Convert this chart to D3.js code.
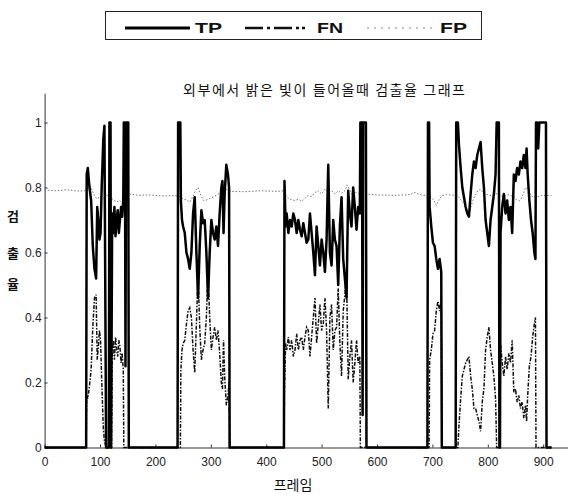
<!DOCTYPE html>
<html>
<head>
<meta charset="utf-8">
<script src="https://cdn.jsdelivr.net/npm/d3@7"></script>
<style>
  html, body { margin: 0; padding: 0; background: #fff; }
  svg { display: block; }
</style>
</head>
<body>
<svg id="chart" width="568" height="494"></svg>
<script>
/* Detection rate per frame under strong outside light: TP / FN / FP. */

var TITLE = '외부에서 밝은 빛이 들어올때 검출율 그래프';
var X_LABEL = '프레임';
var Y_LABEL = ['검', '출', '율'];

var xTicks = [0, 100, 200, 300, 400, 500, 600, 700, 800, 900];
var yTicks = [0, 0.2, 0.4, 0.6, 0.8, 1];
var yTickLabels = ['0', '0.2', '0.4', '0.6', '0.8', '1'];

// [frame, rate]
var tpPoints = [
  [0, 0], [75, 0],
  [76, 0.84], [78, 0.86], [81, 0.80], [84, 0.76], [87, 0.62], [90, 0.55], [93, 0.52],
  [95, 0.74], [97, 0.70], [99, 0.64], [101, 0.66], [103, 0.80], [106, 0.95], [108, 0.99],
  [111, 0], [116, 0], [117, 1], [119, 1], [120, 0],
  [122, 0.72], [124, 0.66], [126, 0.74], [128, 0.65], [130, 0.70], [132, 0.73], [134, 0.66],
  [136, 0.70], [138, 0.74], [140, 0.71], [142, 0.76], [143, 1], [145, 1], [146, 0.25],
  [147, 1], [151, 1], [152, 0],
  [240, 0], [241, 1], [245, 1], [246, 0.76], [248, 0.70], [250, 0.68], [253, 0.66],
  [256, 0.60], [259, 0.58], [262, 0.55], [265, 0.60], [268, 0.72], [271, 0.77], [274, 0.60],
  [277, 0.46], [280, 0.62], [283, 0.73], [286, 0.69], [289, 0.70], [292, 0.60], [295, 0.46],
  [298, 0.60], [301, 0.70], [304, 0.66], [307, 0.64], [310, 0.68], [313, 0.62], [316, 0.72],
  [319, 0.80], [321, 0.82], [323, 0.66], [325, 0.78], [328, 0.87], [331, 0.84], [333, 0.80],
  [334, 0],
  [432, 0], [433, 0.82], [435, 0.68], [437, 0.72], [440, 0.66], [443, 0.70], [446, 0.68],
  [449, 0.72], [452, 0.70], [455, 0.66], [458, 0.70], [461, 0.67], [464, 0.65], [467, 0.69],
  [470, 0.66], [473, 0.63], [476, 0.64], [479, 0.72], [482, 0.66], [485, 0.60], [488, 0.53],
  [491, 0.68], [494, 0.62], [497, 0.56], [500, 0.64], [503, 0.60], [506, 0.54], [509, 0.64],
  [512, 0.87], [515, 0.60], [518, 0.56], [521, 0.70], [524, 0.64], [527, 0.62], [530, 0.50],
  [533, 0.68], [536, 0.77], [539, 0.58], [542, 0.52], [545, 0.46], [548, 0.79], [551, 0.72],
  [554, 0.68], [557, 0.80], [560, 0.74], [563, 0.67], [566, 0.74], [569, 0.72], [570, 1],
  [573, 1], [574, 0.1], [575, 1], [580, 1], [581, 0],
  [691, 0], [692, 1], [694, 1], [695, 0.74], [698, 0.68], [701, 0.63], [704, 0.62],
  [707, 0.58], [710, 0.55], [713, 0.58], [716, 0.54], [717, 0],
  [742, 0], [743, 1], [746, 1], [748, 0.93], [751, 0.86], [754, 0.80], [757, 0.77],
  [760, 0.74], [763, 0.72], [766, 0.71], [769, 0.78], [772, 0.84], [775, 0.88], [778, 0.86],
  [781, 0.90], [784, 0.92], [787, 0.94], [790, 0.86], [793, 0.80], [796, 0.70], [799, 0.66],
  [802, 0.62], [805, 0.70], [808, 0.74], [811, 0.78], [814, 0.84], [816, 1], [820, 1],
  [821, 0], [822, 0], [823, 0.66], [826, 0.74], [829, 0.78], [832, 0.72], [835, 0.76],
  [838, 0.70], [841, 0.74], [844, 0.66], [847, 0.84], [850, 0.82], [853, 0.86], [856, 0.84],
  [859, 0.88], [862, 0.86], [865, 0.90], [868, 0.86], [870, 0.92], [872, 0.84], [875, 0.76],
  [878, 0.70], [881, 0.66], [884, 0.60], [886, 0.58], [887, 1], [889, 1], [891, 0.92],
  [893, 1], [905, 1], [906, 0], [915, 0]
];

var fnPoints = [
  [0, 0], [75, 0],
  [76, 0.16], [78, 0.15], [81, 0.19], [84, 0.24], [87, 0.37], [90, 0.46], [93, 0.47],
  [95, 0.27], [97, 0.31], [99, 0.36], [101, 0.33], [103, 0.21], [106, 0.06], [108, 0.02],
  [111, 0], [121, 0],
  [122, 0.28], [124, 0.33], [126, 0.27], [128, 0.34], [130, 0.30], [132, 0.28], [134, 0.33],
  [136, 0.31], [138, 0.26], [140, 0.29], [142, 0.24], [143, 0], [152, 0],
  [245, 0], [246, 0.24], [248, 0.30], [250, 0.32], [253, 0.33], [256, 0.38], [259, 0.42],
  [262, 0.43], [265, 0.40], [268, 0.30], [271, 0.23], [274, 0.38], [277, 0.54], [280, 0.37],
  [283, 0.27], [286, 0.30], [289, 0.32], [292, 0.40], [295, 0.54], [298, 0.40], [301, 0.30],
  [304, 0.34], [307, 0.37], [310, 0.33], [313, 0.36], [316, 0.29], [319, 0.20], [321, 0.18],
  [323, 0.33], [325, 0.22], [328, 0.13], [331, 0.16], [333, 0.20], [334, 0],
  [432, 0], [433, 0.18], [435, 0.32], [437, 0.30], [440, 0.34], [443, 0.30], [446, 0.33],
  [449, 0.28], [452, 0.30], [455, 0.35], [458, 0.30], [461, 0.33], [464, 0.34], [467, 0.30],
  [470, 0.34], [473, 0.37], [476, 0.36], [479, 0.28], [482, 0.34], [485, 0.40], [488, 0.46],
  [491, 0.32], [494, 0.38], [497, 0.44], [500, 0.36], [503, 0.38], [506, 0.46], [509, 0.36],
  [512, 0.12], [515, 0.40], [518, 0.44], [521, 0.30], [524, 0.36], [527, 0.37], [530, 0.49],
  [533, 0.32], [536, 0.22], [539, 0.42], [542, 0.47], [545, 0.53], [548, 0.21], [551, 0.28],
  [554, 0.33], [557, 0.20], [560, 0.26], [563, 0.33], [566, 0.26], [569, 0.28], [570, 0],
  [694, 0], [695, 0.27], [698, 0.30], [701, 0.35], [704, 0.36], [707, 0.42], [710, 0.45],
  [713, 0.42], [716, 0.46], [717, 0],
  [746, 0], [748, 0.07], [751, 0.15], [754, 0.22], [757, 0.24], [760, 0.26], [763, 0.27],
  [766, 0.28], [769, 0.22], [772, 0.18], [775, 0.12], [778, 0.12], [781, 0.10], [784, 0.08],
  [787, 0.05], [790, 0.14], [793, 0.18], [796, 0.30], [799, 0.34], [802, 0.37], [805, 0.30],
  [808, 0.26], [811, 0.22], [814, 0.15], [816, 0], [822, 0], [823, 0.32], [826, 0.26],
  [829, 0.22], [832, 0.28], [835, 0.24], [838, 0.29], [841, 0.26], [844, 0.33], [847, 0.17],
  [850, 0.18], [853, 0.14], [856, 0.16], [859, 0.12], [862, 0.14], [865, 0.09], [868, 0.13],
  [870, 0.08], [872, 0.16], [875, 0.25], [878, 0.28], [881, 0.34], [884, 0.38], [886, 0.40],
  [887, 0], [915, 0]
];

var fpPoints = [
  [0, 0.792], [20, 0.790], [40, 0.793], [60, 0.789], [74, 0.790], [78, 0.820], [82, 0.810],
  [86, 0.790], [90, 0.775], [94, 0.765], [100, 0.772], [106, 0.768], [112, 0.776],
  [118, 0.772], [124, 0.762], [130, 0.755], [136, 0.760], [141, 0.750], [146, 0.770],
  [152, 0.780], [170, 0.776], [190, 0.777], [210, 0.774], [230, 0.775], [240, 0.774],
  [245, 0.770], [250, 0.765], [256, 0.762], [262, 0.755], [268, 0.772], [272, 0.790],
  [277, 0.800], [282, 0.775], [287, 0.760], [293, 0.762], [300, 0.768], [306, 0.772],
  [312, 0.778], [318, 0.785], [324, 0.790], [330, 0.795], [336, 0.788], [360, 0.787],
  [390, 0.790], [420, 0.788], [432, 0.790], [436, 0.775], [441, 0.765], [446, 0.762],
  [452, 0.760], [458, 0.764], [464, 0.758], [470, 0.768], [476, 0.775], [482, 0.772],
  [488, 0.785], [494, 0.790], [500, 0.780], [506, 0.795], [512, 0.785], [518, 0.790],
  [524, 0.780], [530, 0.790], [536, 0.782], [542, 0.790], [546, 0.808], [550, 0.795],
  [556, 0.775], [562, 0.785], [568, 0.780], [574, 0.790], [580, 0.780], [600, 0.777],
  [630, 0.776], [660, 0.778], [667, 0.785], [680, 0.777], [692, 0.775], [698, 0.770],
  [703, 0.760], [707, 0.745], [712, 0.762], [717, 0.775], [725, 0.778], [740, 0.776],
  [745, 0.775], [750, 0.765], [755, 0.755], [760, 0.740], [764, 0.725], [766, 0.720],
  [769, 0.735], [773, 0.760], [777, 0.775], [782, 0.790], [787, 0.795], [793, 0.780],
  [800, 0.778], [806, 0.775], [812, 0.778], [818, 0.782], [824, 0.775], [830, 0.772],
  [836, 0.778], [842, 0.775], [848, 0.770], [852, 0.762], [856, 0.758], [860, 0.765],
  [864, 0.780], [868, 0.800], [872, 0.795], [878, 0.775], [884, 0.768], [890, 0.772],
  [897, 0.776], [905, 0.775], [915, 0.776]
];

var legendItems = ['TP', 'FN', 'FP'];

var svg = d3.select('#chart');
var FONT = '"Liberation Sans", Arial, sans-serif';
var KFONT = '"Noto Sans CJK KR", "Noto Sans", sans-serif';

var x = d3.scaleLinear().domain([0, 950]).range([44.6, 570.9]);
var y = d3.scaleLinear().domain([0, 1.09]).range([447.5, 93.25]);

/* ---- axes ---- */
var xAxis = d3.axisBottom(x)
  .tickValues(xTicks)
  .tickSizeInner(-3)
  .tickSizeOuter(0)
  .tickPadding(10)
  .tickFormat(d3.format('d'));

var yAxis = d3.axisLeft(y)
  .tickValues(yTicks)
  .tickSizeInner(-3)
  .tickSizeOuter(0)
  .tickPadding(3)
  .tickFormat(function(d, i) { return yTickLabels[i]; });

var gx = svg.append('g')
  .attr('transform', 'translate(0,' + y(0) + ')')
  .call(xAxis);
var gy = svg.append('g')
  .attr('transform', 'translate(' + x(0) + ',0)')
  .call(yAxis);

[gx, gy].forEach(function(g) {
  g.select('.domain').attr('stroke', '#333').attr('stroke-width', 1);
  g.selectAll('.tick line').attr('stroke', '#333');
  g.selectAll('.tick text')
    .attr('fill', '#222')
    .style('font-family', FONT)
    .style('font-size', '12px');
});

/* ---- series ---- */
var line = d3.line()
  .x(function(d) { return x(d[0]); })
  .y(function(d) { return y(d[1]); });

svg.append('path')
  .datum(fpPoints)
  .attr('d', line)
  .attr('fill', 'none')
  .attr('stroke', '#777')
  .attr('stroke-width', 1)
  .attr('stroke-dasharray', '1.5,1.8');

svg.append('path')
  .datum(fnPoints)
  .attr('d', line)
  .attr('fill', 'none')
  .attr('stroke', '#111')
  .attr('stroke-width', 1.5)
  .attr('stroke-dasharray', '4,1.5,1.5,1.5');

svg.append('path')
  .datum(tpPoints)
  .attr('d', line)
  .attr('fill', 'none')
  .attr('stroke', '#000')
  .attr('stroke-width', 2.5)
  .attr('stroke-linejoin', 'round');

/* ---- title and axis labels ---- */
svg.append('text')
  .attr('x', 183).attr('y', 95)
  .attr('textLength', 282).attr('lengthAdjust', 'spacing')
  .style('font-family', KFONT).style('font-size', '14px')
  .attr('fill', '#111')
  .text(TITLE);

svg.append('text')
  .attr('x', 293).attr('y', 490)
  .attr('text-anchor', 'middle')
  .style('font-family', KFONT).style('font-size', '14px')
  .attr('fill', '#111')
  .text(X_LABEL);

var yLabelBase = [221, 258, 289];
svg.selectAll('.ylab').data(Y_LABEL).enter().append('text')
  .attr('class', 'ylab')
  .attr('x', 13).attr('y', function(d, i) { return yLabelBase[i]; })
  .attr('text-anchor', 'middle')
  .style('font-family', KFONT).style('font-size', '13px').style('font-weight', 'bold')
  .attr('fill', '#111')
  .text(function(d) { return d; });

/* ---- legend ---- */
var legend = svg.append('g');
legend.append('rect')
  .attr('x', 105.5).attr('y', 11.5)
  .attr('width', 376).attr('height', 28)
  .attr('fill', '#fff').attr('stroke', '#222').attr('stroke-width', 1);

var legendLines = [
  {x1: 125, x2: 190, stroke: '#000', width: 3, dash: null},
  {x1: 245, x2: 310, stroke: '#111', width: 2.5, dash: '18,4,3,4,18,4,3,3,3,20'},
  {x1: 367, x2: 433, stroke: '#888', width: 1.2, dash: '2,5'}
];
var legendText = [{x: 195, len: 27}, {x: 317, len: 26}, {x: 440, len: 27}];

legendItems.forEach(function(name, i) {
  var l = legendLines[i];
  legend.append('line')
    .attr('x1', l.x1).attr('x2', l.x2)
    .attr('y1', 28).attr('y2', 28)
    .attr('stroke', l.stroke)
    .attr('stroke-width', l.width)
    .attr('stroke-dasharray', l.dash);
  legend.append('text')
    .attr('x', legendText[i].x).attr('y', 33)
    .attr('textLength', legendText[i].len).attr('lengthAdjust', 'spacingAndGlyphs')
    .style('font-family', FONT).style('font-size', '14px').style('font-weight', 'bold')
    .attr('fill', '#111')
    .text(name);
});
</script>
</body>
</html>
